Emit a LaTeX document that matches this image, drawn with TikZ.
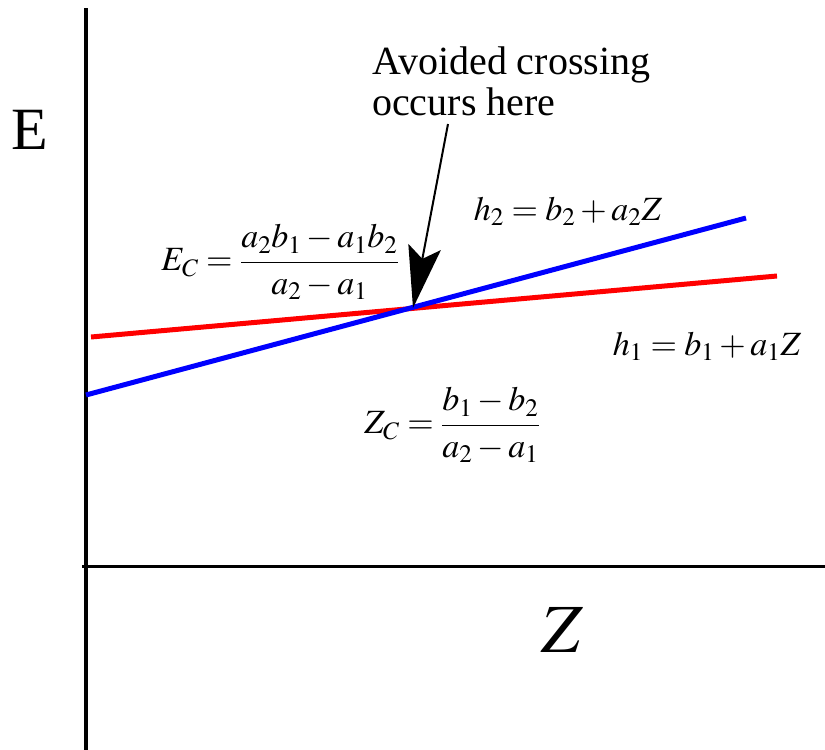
\documentclass[tikz,border=0pt]{standalone}
\usepackage{mathptmx}
\usepackage[no-math]{fontspec}
\setmainfont{Liberation Serif}
\usepackage{tikz}
\usetikzlibrary{arrows.meta,positioning,calc}

\begin{document}
\begin{tikzpicture}[x=1pt,y=-1pt,
    level/.style={line width=5pt},
    eqn/.style={inner sep=0pt,font=\fontsize{34}{40}\selectfont},
    axis/.style={line width=4pt}]
  \useasboundingbox (0,0) rectangle (825,750);
  \coordinate (etop) at (86,8);
  \coordinate (ebot) at (86,750);
  \coordinate (zleft) at (82,566);
  \coordinate (zright) at (825,566);
  \draw[axis] (etop) -- (ebot);
  \draw[axis,line width=3pt] (zleft) -- (zright);
  \node[inner sep=0pt,font=\fontsize{60}{60}\selectfont] (elabel) at (30,130) {E};
  \node[inner sep=0pt,font=\fontsize{69}{70}\selectfont] (zlabel) at (562,630) {$Z$};
  % the two levels
  \coordinate (r0) at (91,337);
  \coordinate (r1) at (777,276);
  \coordinate (b0) at (86,395);
  \coordinate (b1) at (746,218);
  \coordinate (cross) at (413,308);
  \draw[level,red] (r0) -- (r1);
  \draw[level,blue] (b0) -- (b1);
  \node[inner sep=0pt,anchor=north west,align=left,font=\fontsize{40}{41}\selectfont] (note) at (372,47)
    {Avoided crossing\\occurs here};
  \coordinate (tail) at (448,124);
  \draw[line width=2pt,-{Stealth[length=62pt,width=33pt,inset=12pt]}] (tail) -- (cross);
  \node[eqn,anchor=base] (htwo) at (568,220) {$h_2 = b_2 + a_2 Z$};
  \node[eqn,anchor=base] (hone) at (707,355) {$h_1 = b_1 + a_1 Z$};
  \node[eqn] (ec) at (280,262) {$\displaystyle E_C = \frac{a_2 b_1 - a_1 b_2}{a_2 - a_1}$};
  \node[eqn] (zc) at (452,425) {$\displaystyle Z_C = \frac{b_1 - b_2}{a_2 - a_1}$};
\end{tikzpicture}
\end{document}
